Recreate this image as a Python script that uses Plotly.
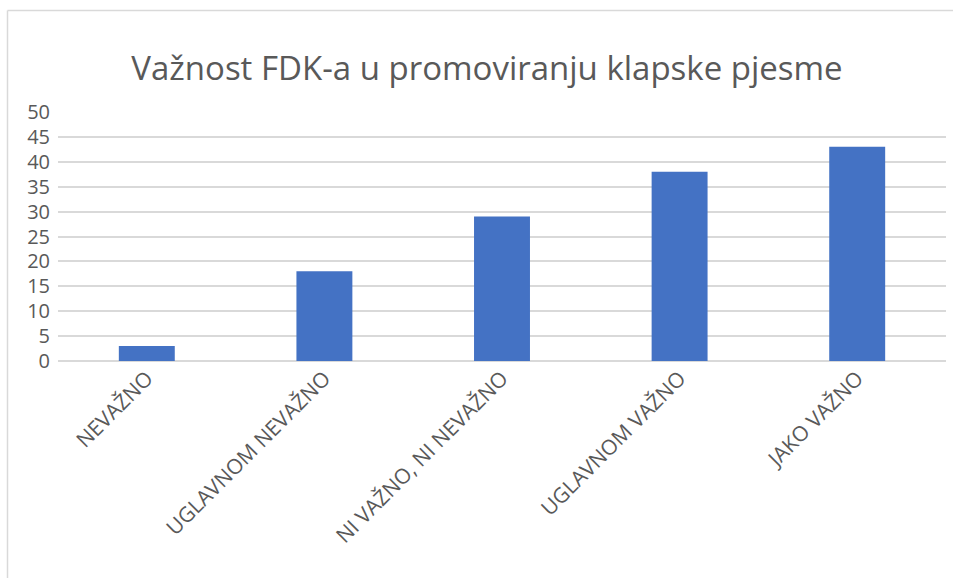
import plotly.graph_objects as go

categories = ["NEVAŽNO", "UGLAVNOM NEVAŽNO", "NI VAŽNO, NI NEVAŽNO", "UGLAVNOM VAŽNO", "JAKO VAŽNO"]
values = [3, 18, 29, 38, 43]
y_ticks = [0, 5, 10, 15, 20, 25, 30, 35, 40, 45, 50]
title_text = "Važnost FDK-a u promoviranju klapske pjesme"

W, H = 953, 578
L, R, T, B = 58, 7, 112, 217
pw, ph = W - L - R, H - T - B

def px_x(x):
    return (x - L) / pw

def px_y(y):
    return (H - B - y) / ph

fig = go.Figure(go.Bar(x=categories, y=values, marker=dict(color="#4472c4", line=dict(width=0))))

fig.update_layout(
    width=W, height=H,
    margin=dict(l=L, r=R, t=T, b=B, autoexpand=False),
    paper_bgcolor="white", plot_bgcolor="white",
    bargap=0.685,
    showlegend=False,
    font=dict(family="Open Sans", color="#595959"),
    title=dict(text=title_text, x=px_x(487), xref="paper", xanchor="center",
               y=1 - 68 / H, yref="container", yanchor="middle",
               font=dict(size=33, color="#595959", family="Open Sans")),
    xaxis=dict(tickangle=-45, tickfont=dict(size=21, color="#595959"), showgrid=False,
               showline=False, ticks="", fixedrange=True),
    yaxis=dict(range=[0, 50], tickvals=y_ticks, tickfont=dict(size=20, color="#595959"),
               gridcolor="#d9d9d9", gridwidth=1.5, zeroline=True, zerolinecolor="#d9d9d9",
               zerolinewidth=1.5, showline=False, ticks="", ticklabelstandoff=7, fixedrange=True),
    shapes=[
        dict(type="line", xref="paper", yref="paper", x0=px_x(7.5), x1=px_x(960), y0=px_y(10.5), y1=px_y(10.5),
             line=dict(color="#d9d9d9", width=1.5)),
        dict(type="line", xref="paper", yref="paper", x0=px_x(7.5), x1=px_x(7.5), y0=px_y(10.5), y1=px_y(590),
             line=dict(color="#d9d9d9", width=1.5)),
    ],
)

fig.write_html("out.html", config={"displayModeBar": False},
               post_script="document.body.style.margin='0';")
